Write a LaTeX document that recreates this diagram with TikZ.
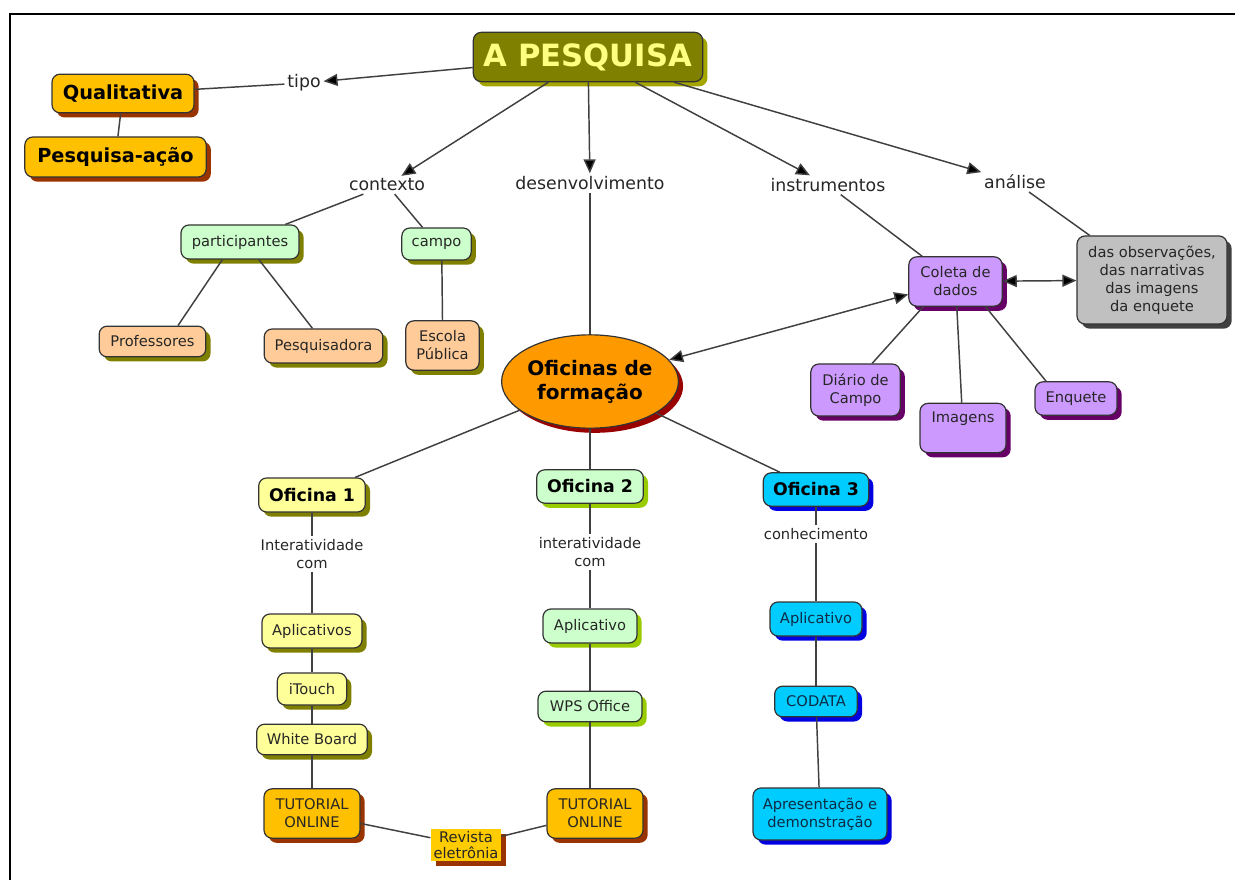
\documentclass[tikz,border=0pt]{standalone}
\usepackage{fontspec}
\setmainfont{DejaVu Sans}
\usepackage{tikz}
\usetikzlibrary{shapes.geometric, arrows.meta, shadows}
\definecolor{pesqfill}{HTML}{808000}
\definecolor{pesqtext}{HTML}{FFFF80}
\definecolor{pesqshadow}{HTML}{A5A500}
\definecolor{goldfill}{HTML}{FFC000}
\definecolor{brownshadow}{HTML}{993300}
\definecolor{mintfill}{HTML}{CCFFCC}
\definecolor{oliveshadow}{HTML}{808000}
\definecolor{limeshadow}{HTML}{99CC00}
\definecolor{peachfill}{HTML}{FFCC99}
\definecolor{orangefill}{HTML}{FF9900}
\definecolor{redshadow}{HTML}{990000}
\definecolor{lilacfill}{HTML}{CC99FF}
\definecolor{plumshadow}{HTML}{660066}
\definecolor{grayfill}{HTML}{C0C0C0}
\definecolor{grayshadow}{HTML}{404040}
\definecolor{lemonfill}{HTML}{FFFF99}
\definecolor{cyanfill}{HTML}{00CCFF}
\definecolor{blueshadow}{HTML}{0000E0}
\definecolor{navytext}{HTML}{0D2B45}
\definecolor{revistafill}{HTML}{FFCC00}
\tikzset{
    concept/.style={rectangle, rounded corners=6pt, draw=black!80, line width=0.9pt, align=center, text=black!85, font=\fontsize{11}{13.5}\selectfont, inner sep=2pt},
    boldconcept/.style={concept, text=black, font=\bfseries\fontsize{13}{15}\selectfont},
    bigconcept/.style={concept, text=black, font=\bfseries\fontsize{14.5}{17}\selectfont},
    linkword/.style={text=black!85, font=\fontsize{13}{15}\selectfont, inner sep=2pt, align=center},
    smalllink/.style={linkword, font=\fontsize{11}{13.5}\selectfont},
    link/.style={draw=black!75, line width=1.1pt},
    arrow/.style={link, -{Triangle[length=10.5pt,width=9pt]}},
    dblarrow/.style={link, {Triangle[length=10.5pt,width=9pt]}-{Triangle[length=10.5pt,width=9pt]}},
    shadowcol/.style={drop shadow={shadow xshift=3.5pt, shadow yshift=-3.5pt, fill=#1, opacity=1}},
    boxsize/.style 2 args={minimum width=#1, minimum height=#2},
}
\begin{document}
\begin{tikzpicture}[x=0.75pt,y=-0.75pt]
  \useasboundingbox (0,0) rectangle (1235,880);
  \draw[line width=2.2pt] (10,900) -- (10,14) -- (1250,14);

  % top
  \node[concept, fill=pesqfill, shadowcol=pesqshadow, boxsize={172pt}{37pt}, text=pesqtext, font=\bfseries\fontsize{23}{27}\selectfont] (pesq) at (588,57) {A PESQUISA};
  \node[bigconcept, fill=goldfill, shadowcol=brownshadow, boxsize={106.5pt}{29pt}] (qual) at (123,93.5) {Qualitativa};
  \node[bigconcept, fill=goldfill, shadowcol=brownshadow, boxsize={136pt}{30pt}] (acao) at (115.5,157) {Pesquisa-ação};

  \node[linkword] (tipo) at (304,83) {tipo};
  \node[linkword] (contexto) at (387,185) {contexto};
  \node[linkword] (desenv) at (590,183) {desenvolvimento};
  \node[linkword] (instr) at (828,185) {instrumentos};
  \node[linkword] (analise) at (1015,182) {análise};

  % contexto
  \node[concept, fill=mintfill, shadowcol=oliveshadow, boxsize={88.5pt}{25.5pt}] (partic) at (240,242) {participantes};
  \node[concept, fill=mintfill, shadowcol=oliveshadow, boxsize={52pt}{24pt}] (campo) at (436.5,244) {campo};
  \node[concept, fill=peachfill, shadowcol=oliveshadow, boxsize={80pt}{23pt}] (prof) at (152.5,341.5) {Professores};
  \node[concept, fill=peachfill, shadowcol=oliveshadow, boxsize={89pt}{25.5pt}] (pesqra) at (323.5,346) {Pesquisadora};
  \node[concept, fill=peachfill, shadowcol=oliveshadow, boxsize={55pt}{37pt}] (escola) at (442.5,345.5) {Escola\\Pública};

  % instrumentos / analise
  \node[ellipse, draw=black!80, line width=0.9pt, fill=orangefill, shadowcol=redshadow, boxsize={122pt}{70pt}, inner sep=0pt, align=center, font=\bfseries\fontsize{15}{18}\selectfont] (ofic) at (590,381.5) {Oficinas de\\formação};
  \node[concept, fill=lilacfill, shadowcol=plumshadow, boxsize={70pt}{37pt}] (coleta) at (955.5,281.5) {Coleta de\\dados};
  \node[concept, fill=grayfill, shadowcol=grayshadow, boxsize={112.5pt}{66pt}] (obs) at (1152,280) {das observações,\\das narrativas\\das imagens\\da enquete};
  \node[concept, fill=lilacfill, shadowcol=plumshadow, boxsize={67pt}{39pt}] (diario) at (855.5,390) {Diário de\\Campo};
  \node[concept, fill=lilacfill, shadowcol=plumshadow, minimum width=64.5pt, text height=11pt, text depth=20pt, inner sep=3pt] (imagens) at (963,428) {Imagens};
  \node[concept, fill=lilacfill, shadowcol=plumshadow, boxsize={61.5pt}{25pt}] (enquete) at (1076,398.5) {Enquete};

  % oficinas
  \node[boldconcept, fill=lemonfill, shadowcol=oliveshadow, boxsize={80pt}{25.5pt}] (of1) at (312,495) {Oficina 1};
  \node[boldconcept, fill=mintfill, shadowcol=limeshadow, boxsize={80pt}{25pt}] (of2) at (590,486.5) {Oficina 2};
  \node[boldconcept, fill=cyanfill, shadowcol=blueshadow, boxsize={79pt}{25pt}] (of3) at (816,489.5) {Oficina 3};

  \node[smalllink] (inter1) at (312,554) {Interatividade\\com};
  \node[smalllink] (inter2) at (590,552) {interatividade\\com};
  \node[smalllink] (conhec) at (816,534) {conhecimento};

  \node[concept, fill=lemonfill, shadowcol=oliveshadow, boxsize={75pt}{25.5pt}] (apl1) at (312,631) {Aplicativos};
  \node[concept, fill=lemonfill, shadowcol=oliveshadow, boxsize={52pt}{24pt}] (itouch) at (312,689) {iTouch};
  \node[concept, fill=lemonfill, shadowcol=oliveshadow, boxsize={83pt}{23pt}] (wboard) at (312,739.5) {White Board};
  \node[concept, fill=goldfill, shadowcol=brownshadow, boxsize={72pt}{37pt}] (tut1) at (312,813.5) {TUTORIAL\\ONLINE};

  \node[concept, fill=mintfill, shadowcol=limeshadow, boxsize={70.5pt}{25.5pt}] (apl2) at (590,626) {Aplicativo};
  \node[concept, fill=mintfill, shadowcol=limeshadow, boxsize={78pt}{23pt}] (wps) at (590,706.5) {WPS Office};
  \node[concept, fill=goldfill, shadowcol=brownshadow, boxsize={72pt}{37pt}] (tut2) at (595,813.5) {TUTORIAL\\ONLINE};
  \node[concept, draw=none, rounded corners=0pt, fill=revistafill, shadowcol=brownshadow, boxsize={52.5pt}{24pt}, inner sep=0pt, font=\fontsize{11}{12}\selectfont] (revista) at (466,845) {Revista\\eletrônia};

  \node[concept, fill=cyanfill, shadowcol=blueshadow, text=navytext, boxsize={69pt}{25.5pt}] (apl3) at (816,619) {Aplicativo};
  \node[concept, fill=cyanfill, shadowcol=blueshadow, text=navytext, boxsize={62pt}{23pt}] (codata) at (816,701.5) {CODATA};
  \node[concept, fill=cyanfill, shadowcol=blueshadow, text=navytext, boxsize={100.5pt}{39pt}] (apres) at (820,814) {Apresentação e\\demonstração};

  \path[arrow] (pesq) edge (tipo)
                      edge (contexto)
                      edge (desenv)
                      edge (instr)
                      edge (analise);
  \path[link] (tipo) edge (qual);
  \path[link] (qual) edge (acao);
  \path[link] (contexto) edge (partic);
  \path[link] (contexto) edge (campo);
  \path[link] (partic.-135) edge (prof.32);
  \path[link] (partic.-43) edge (pesqra.122);
  \path[link] ([xshift=4pt]campo.south) edge (escola.north);
  \path[link] (desenv) edge (ofic);
  \path[link] (instr) edge (coleta);
  \path[link] (analise) edge (obs);
  \path[dblarrow] (coleta) edge (obs);
  \path[dblarrow] (coleta) edge (ofic);
  \path[link] (coleta.-142) edge (diario.58);
  \path[link] (coleta) edge (imagens);
  \path[link] (coleta.-40) edge (enquete.150);

  \path[link] (ofic) edge (of1);
  \path[link] (ofic) edge (of2);
  \path[link] (ofic) edge (of3);
  \path[link] (of1) edge (inter1);
  \path[link] (inter1) edge (apl1);
  \path[link] (apl1) edge (itouch);
  \path[link] (itouch) edge (wboard);
  \path[link] (wboard) edge (tut1);
  \path[link] (of2) edge (inter2);
  \path[link] (inter2) edge (apl2);
  \path[link] (apl2) edge (wps);
  \path[link] (wps) edge (wps.south |- tut2.north);
  \path[link] (of3) edge (conhec);
  \path[link] (conhec) edge (apl3);
  \path[link] (apl3) edge (codata);
  \path[link] (codata) edge (apres);
  \path[link] (tut1) edge (revista);
  \path[link] (revista) edge (tut2);
\end{tikzpicture}
\end{document}
